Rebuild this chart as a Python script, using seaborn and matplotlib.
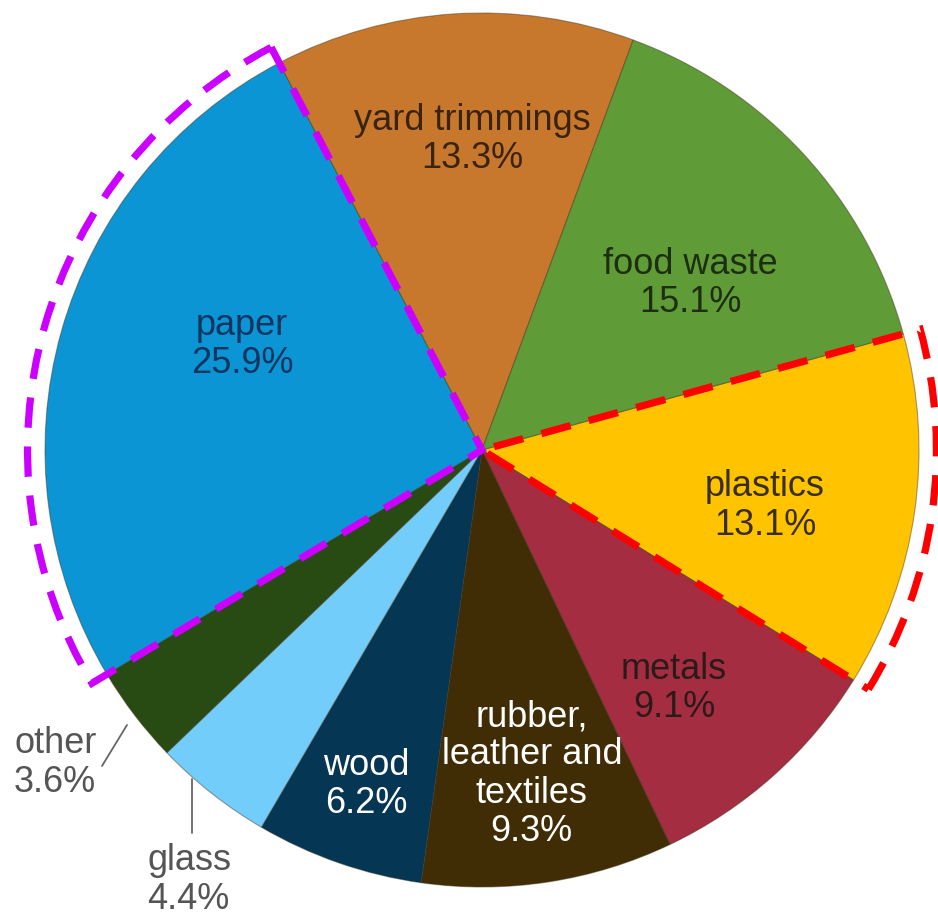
import numpy as np
import matplotlib
matplotlib.use("Agg")
import matplotlib.pyplot as plt
from matplotlib.patches import Wedge
import seaborn as sns

# ---- data (clockwise from plastics) ----
categories = ["plastics", "metals", "rubber,\nleather and\ntextiles", "wood",
              "glass", "other", "paper", "yard trimmings", "food waste"]
shares = [13.1, 9.1, 9.3, 6.2, 4.4, 3.6, 25.9, 13.3, 15.1]
colors = ["#FFC300", "#A52D41", "#412D05", "#053755",
          "#73CDFA", "#284B14", "#0B95D5", "#C8782D", "#5F9B37"]
text_colors = ["#3a2e10", "#2a1a1a", "#ffffff", "#ffffff",
               "#555555", "#555555", "#0f3560", "#3a2410", "#1e2e10"]
inside = [True, True, True, True, False, False, True, True, True]
label_radius = [0.66, 0.70, 0.75, 0.81, None, None, 0.60, 0.71, 0.61]
label_angle_shift = [-3, -3, 0, 0, 0, 0, -8, -2, -4]
start_angle = 15.4
highlight_purple = "paper"
highlight_red = "plastics"

sns.set_theme(style="white")
plt.rcParams['font.family'] = ['Liberation Sans', 'DejaVu Sans']

fig = plt.figure(figsize=(9.38, 9.19), dpi=100)
ax = fig.add_axes([0, 0, 1, 1])

wedges, _ = ax.pie(shares, colors=colors, startangle=start_angle, counterclock=False,
                   radius=1.0,
                   wedgeprops=dict(edgecolor=(0.25, 0.2, 0.1, 0.45), linewidth=0.8))

# angles of each wedge
bounds = start_angle - np.concatenate([[0], np.cumsum(shares)]) * 3.6
for i, name in enumerate(categories):
    a0, a1 = bounds[i], bounds[i + 1]
    mid = (a0 + a1) / 2 + label_angle_shift[i]
    text = f"{name}\n{shares[i]:.1f}%"
    if inside[i]:
        r = label_radius[i]
        x, y = r * np.cos(np.radians(mid)), r * np.sin(np.radians(mid))
        ax.text(x, y, text, ha="center", va="center", fontsize=26,
                color=text_colors[i], linespacing=1.12)

# outside labels with leader lines
px = 437.0
cx, cy = 482.0, 450.0
def P(x, y):
    return ((x - cx) / px, (cy - y) / px)

def outside(idx, p0, p1, tpos, ha):
    ax.plot([p0[0], p1[0]], [p0[1], p1[1]], color="#666666", lw=1.3)
    ax.text(tpos[0], tpos[1], f"{categories[idx]}\n{shares[idx]:.1f}%", ha=ha,
            va="center", fontsize=26, color=text_colors[idx], linespacing=1.12)

gi = categories.index("glass")
oi = categories.index("other")
outside(oi, P(127, 725), P(102, 766), P(14, 763), "left")
outside(gi, P(192, 779), P(192, 833), P(147, 880), "left")

# dashed highlight outlines
for name, col in [(highlight_purple, "#CC00FF"), (highlight_red, "#FF0000")]:
    i = categories.index(name)
    a0, a1 = bounds[i], bounds[i + 1]
    w = Wedge((0, 0), 1.04, min(a0, a1), max(a0, a1), fill=False,
              edgecolor=col, linewidth=5.2, linestyle=(0, (4.2, 2.6)),
              capstyle="butt", joinstyle="miter")
    ax.add_patch(w)

ax.set_xlim(-cx / px, (938 - cx) / px)
ax.set_ylim(-(919 - cy) / px, cy / px)
ax.set_aspect("equal")
ax.axis("off")

fig.savefig("out.png", dpi=100, facecolor="white")
